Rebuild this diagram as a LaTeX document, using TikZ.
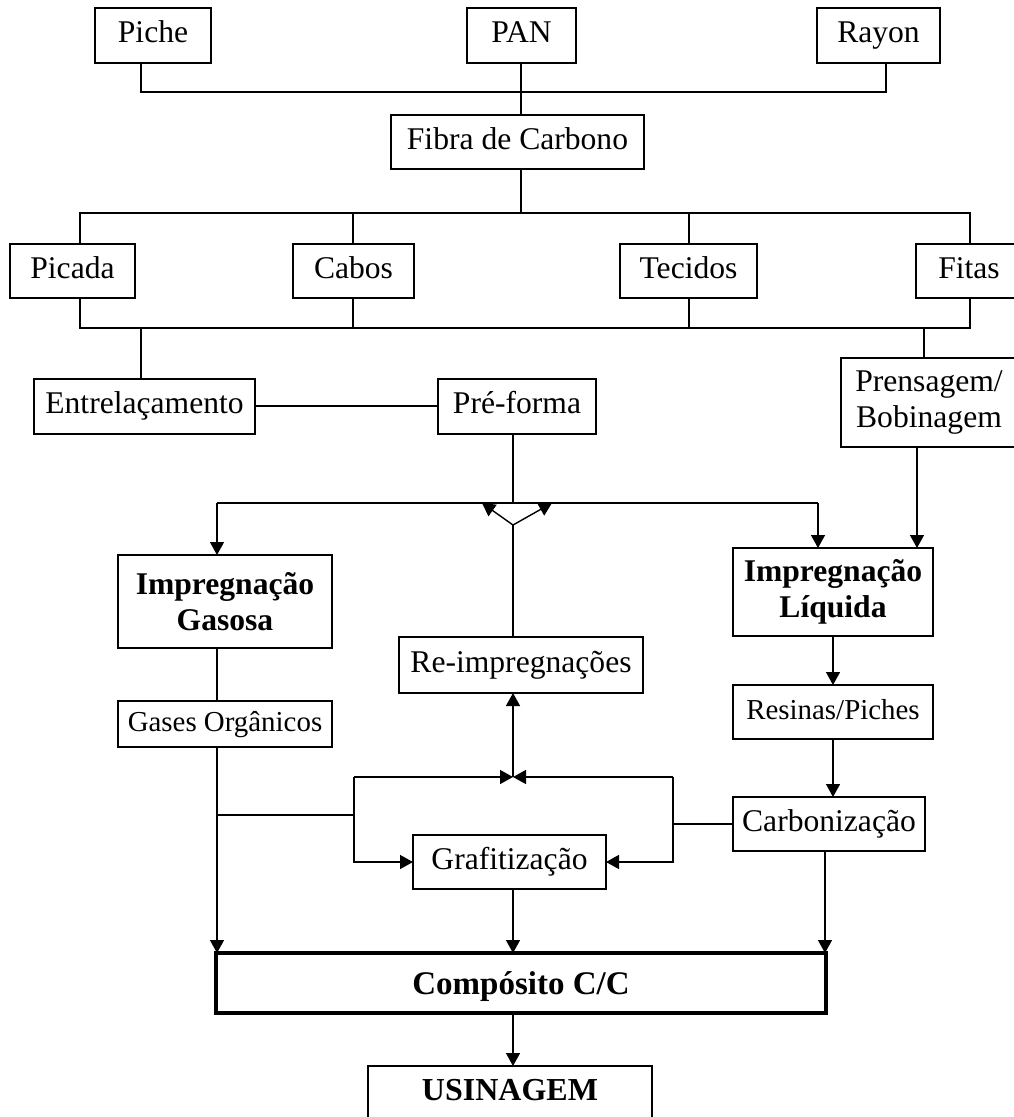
\documentclass[tikz,border=0pt]{standalone}
\usepackage{fontspec}
\setmainfont{Liberation Serif}
\usetikzlibrary{arrows.meta}
\tikzset{
  box/.style={draw, line width=2pt, inner sep=0pt, outer sep=0pt, font=\fontsize{31.6}{35.5}\selectfont, text height=21pt, text depth=7pt},
  sbox/.style={box, font=\fontsize{28.9}{33}\selectfont, text height=20pt, text depth=6pt},
  mbox/.style={draw, line width=2pt, inner sep=0pt, outer sep=0pt, align=center, font=\fontsize{31.6}{35.5}\selectfont},
  bbox/.style={mbox, font=\bfseries\fontsize{31.6}{36}\selectfont},
  conn/.style={line width=1.4pt},
  arr/.style={line width=1.4pt, -{Triangle[length=13pt,width=14pt]}},
}
\begin{document}
\begin{tikzpicture}[x=1pt,y=-1pt]
\useasboundingbox (0,0) rectangle (1014,1117);
\clip (0,0) rectangle (1014,1117);
% nodes
\node[box, minimum width=116pt, minimum height=55pt] (Piche) at (153,35.5) {Piche};
\node[box, minimum width=109pt, minimum height=55pt] (PAN) at (521.5,35.5) {PAN};
\node[box, minimum width=123pt, minimum height=55pt] (Rayon) at (878.5,35.5) {Rayon};
\node[box, minimum width=253pt, minimum height=54pt] (Fibra) at (517.5,142) {Fibra de Carbono};
\node[box, minimum width=125pt, minimum height=54pt] (Picada) at (72.5,271) {Picada};
\node[box, minimum width=121pt, minimum height=54pt] (Cabos) at (353.5,271) {Cabos};
\node[box, minimum width=137pt, minimum height=54pt] (Tecidos) at (688.5,271) {Tecidos};
\node[box, minimum width=106pt, minimum height=54pt] (Fitas) at (969,271) {Fitas};
\node[box, minimum width=221pt, minimum height=55pt] (Entrel) at (144.5,406) {Entrelaçamento};
\node[box, minimum width=158pt, minimum height=55pt] (Preforma) at (517,406) {Pré-forma};
\node[mbox, minimum width=176pt, minimum height=89pt] (Prensagem) at (929,402.5) {Prensagem/\\Bobinagem};
\node[bbox, minimum width=214pt, minimum height=93pt] (Gasosa) at (225,601.5) {Impregnação\\Gasosa};
\node[bbox, minimum width=200pt, minimum height=88pt] (Liquida) at (833,592) {Impregnação\\Líquida};
\node[box, minimum width=244pt, minimum height=56pt] (Reimp) at (521,665) {Re-impregnações};
\node[sbox, minimum width=214pt, minimum height=46pt] (Gases) at (225,724) {Gases Orgânicos};
\node[sbox, minimum width=200pt, minimum height=54pt] (Resinas) at (833,712) {Resinas/Piches};
\node[box, minimum width=192pt, minimum height=54pt] (Carbon) at (829,824) {Carbonização};
\node[box, minimum width=193pt, minimum height=54pt] (Grafit) at (509.5,862) {Grafitização};
\node[draw, line width=4.5pt, inner sep=0pt, outer sep=0pt, minimum width=610pt, minimum height=60pt,
      font=\bfseries\fontsize{33}{38}\selectfont, text height=22pt, text depth=0pt] (Composito) at (521,983) {Compósito C/C};
\node[draw, line width=2pt, inner sep=0pt, outer sep=0pt, minimum width=284pt, minimum height=74pt,
      label={[font=\bfseries\fontsize{32}{36}\selectfont, yshift=13pt]center:USINAGEM}] (Usinagem) at (510,1103) {};
% junction coordinates
\coordinate (t1) at (141,92);
\coordinate (t2) at (521,92);
\coordinate (t3) at (886,92);
\coordinate (fa) at (80,213);
\coordinate (fb) at (353,213);
\coordinate (fc) at (689,213);
\coordinate (fd) at (970,213);
\coordinate (ga) at (80,328);
\coordinate (gd) at (970,328);
\coordinate (ge) at (141,328);
\coordinate (gf) at (924,328);
\coordinate (v) at (513,525);
\coordinate (hl) at (217,503);
\coordinate (hr) at (818,503);
\coordinate (va) at (482,503);
\coordinate (vb) at (552,503);
\coordinate (pb) at (917,0);
\coordinate (k) at (217,815);
\coordinate (k2) at (354,815);
\coordinate (m1) at (354,777);
\coordinate (c) at (513,777);
\coordinate (m2) at (673,777);
\coordinate (rx) at (825,0);
% connectors
\draw[conn] (Piche.south -| t1) -- (t1) -- (t3) -- (Rayon.south -| t3);
\draw[conn] (PAN.south -| t2) -- (Fibra.north -| t2);
\draw[conn] (Fibra.south -| t2) -- (t2 |- fa);
\draw[conn] (Picada.north -| fa) -- (fa) -- (fd) -- (Fitas.north -| fd);
\draw[conn] (fb) -- (Cabos.north -| fb);
\draw[conn] (fc) -- (Tecidos.north -| fc);
\draw[conn] (Picada.south -| ga) -- (ga) -- (gd) -- (Fitas.south -| gd);
\draw[conn] (Cabos.south -| fb) -- (fb |- ga);
\draw[conn] (Tecidos.south -| fc) -- (fc |- ga);
\draw[conn] (ge) -- (Entrel.north -| ge);
\draw[conn] (gf) -- (Prensagem.north -| gf);
\draw[conn] (Entrel.east) -- (Preforma.west);
\draw[conn] (Preforma.south -| v) -- (v |- hl);
\draw[conn] (hl) -- (hr);
\draw[arr] (hl) -- (Gasosa.north -| hl);
\draw[arr] (hr) -- (Liquida.north -| hr);
\draw[arr] (v) -- (va);
\draw[arr] (v) -- (vb);
\draw[conn] (v) -- (Reimp.north -| v);
\draw[arr] (Prensagem.south -| pb) -- (Liquida.north -| pb);
\draw[conn] (Gasosa.south -| hl) -- (Gases.north -| hl);
\draw[arr] (Gases.south -| hl) -- (Composito.north -| hl);
\draw[conn] (k) -- (k2) -- (m1);
\draw[arr] (m1) -- (c);
\draw[arr] (m2) -- (c);
\draw[arr] (m1) |- (Grafit.west);
\draw[arr] (m2) |- (Grafit.east);
\draw[conn] (Carbon.west) -- (m2 |- Carbon.west);
\draw[arr] (c) -- (Reimp.south -| c);
\draw[arr] (Liquida.south) -- (Resinas.north);
\draw[arr] (Resinas.south) -- (Resinas.south |- Carbon.north);
\draw[arr] (Carbon.south -| rx) -- (Composito.north -| rx);
\draw[arr] (Grafit.south -| c) -- (Composito.north -| c);
\draw[arr] (Composito.south -| c) -- (Usinagem.north -| c);
\end{tikzpicture}
\end{document}
